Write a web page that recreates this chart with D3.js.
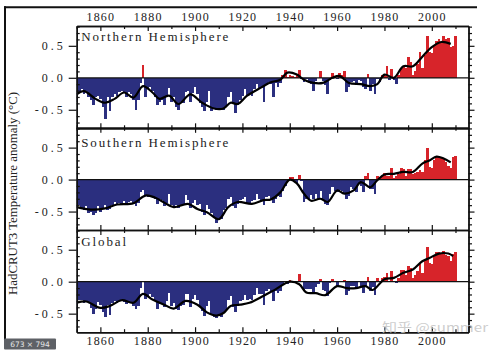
<!DOCTYPE html>
<html><head><meta charset="utf-8">
<script src="https://cdn.jsdelivr.net/npm/d3@7"></script>
<style>body{margin:0;background:#fff}svg{display:block}</style>
</head><body>
<svg id="c" width="500" height="355"></svg>
<script>
// ---------------- data ----------------
const firstYear = 1850;
const panelNames = ["Northern Hemisphere", "Southern Hemisphere", "Global"];
const xTickLabels = [1860, 1880, 1900, 1920, 1940, 1960, 1980, 2000];
const xMinorTicks = [1850, 1870, 1890, 1910, 1930, 1950, 1970, 1990, 2010];
const yTickLabels = [0.5, 0.0, -0.5];
const yLabel = "HadCRUT3 Temperature anomaly (°C)";

const nhAnnual = [
-0.38,-0.22,-0.18,-0.25,-0.20,-0.30,-0.35,-0.42,-0.30,-0.28,
-0.33,-0.45,-0.64,-0.30,-0.52,-0.30,-0.25,-0.28,-0.22,-0.20,
-0.22,-0.30,-0.22,-0.25,-0.35,-0.50,-0.35,-0.08, 0.20,-0.30,
-0.18,-0.15,-0.20,-0.30,-0.42,-0.38,-0.35,-0.42,-0.30,-0.16,
-0.38,-0.30,-0.45,-0.50,-0.38,-0.40,-0.22,-0.20,-0.38,-0.24,
-0.14,-0.25,-0.40,-0.46,-0.52,-0.38,-0.20,-0.52,-0.48,-0.50,
-0.48,-0.50,-0.50,-0.46,-0.30,-0.22,-0.40,-0.55,-0.42,-0.34,
-0.28,-0.18,-0.28,-0.25,-0.28,-0.18,-0.10,-0.18,-0.14,-0.38,
-0.10,-0.06,-0.10,-0.30,-0.08,-0.14,-0.08, 0.05, 0.12, 0.02,
 0.05, 0.03, 0.02, 0.04, 0.12,-0.02,-0.06,-0.02,-0.05,-0.10,
-0.20,-0.05,-0.01, 0.10,-0.05,-0.12,-0.25,-0.03, 0.08, 0.03,
-0.02, 0.07, 0.05, 0.10,-0.22,-0.14,-0.06,-0.05,-0.12,-0.04,
-0.05,-0.15,-0.18, 0.06,-0.20,-0.09,-0.25,-0.02,-0.06, 0.05,
 0.05, 0.18,-0.04, 0.13,-0.03,-0.10, 0.05, 0.13, 0.18, 0.15,
 0.33, 0.25, 0.05, 0.10, 0.22, 0.40, 0.15, 0.35, 0.65, 0.40,
 0.38, 0.52, 0.58, 0.60, 0.55, 0.65, 0.60, 0.62, 0.48, 0.50,
 0.66];

const shAnnual = [
-0.45,-0.40,-0.45,-0.48,-0.42,-0.52,-0.50,-0.55,-0.52,-0.42,
-0.50,-0.46,-0.40,-0.48,-0.46,-0.40,-0.35,-0.40,-0.36,-0.38,
-0.34,-0.40,-0.35,-0.34,-0.38,-0.42,-0.36,-0.20,-0.16,-0.24,
-0.28,-0.24,-0.25,-0.30,-0.38,-0.30,-0.32,-0.42,-0.36,-0.22,
-0.40,-0.42,-0.40,-0.44,-0.42,-0.38,-0.24,-0.32,-0.44,-0.36,
-0.32,-0.40,-0.38,-0.50,-0.55,-0.40,-0.46,-0.52,-0.58,-0.68,
-0.62,-0.62,-0.48,-0.44,-0.30,-0.28,-0.42,-0.45,-0.38,-0.32,
-0.30,-0.28,-0.38,-0.36,-0.34,-0.32,-0.22,-0.30,-0.32,-0.40,
-0.28,-0.26,-0.30,-0.36,-0.30,-0.26,-0.28,-0.18,-0.10,-0.02,
 0.04, 0.04,-0.04,-0.06, 0.07,-0.02,-0.35,-0.30,-0.32,-0.24,
-0.30,-0.22,-0.30,-0.18,-0.32,-0.38,-0.40,-0.22,-0.12,-0.18,
-0.20,-0.16,-0.18,-0.22,-0.30,-0.25,-0.12,-0.15,-0.20,-0.05,
-0.10,-0.20, 0.06, 0.10,-0.15,-0.14,-0.22, 0.05, 0.02, 0.06,
 0.10, 0.05, 0.05, 0.18, 0.02, 0.06, 0.08, 0.18, 0.17, 0.06,
 0.16, 0.16, 0.08, 0.10, 0.12, 0.15, 0.12, 0.30, 0.49, 0.20,
 0.18, 0.30, 0.36, 0.35, 0.34, 0.32, 0.28, 0.22, 0.18, 0.36,
 0.37];

const glAnnual = [
-0.44,-0.29,-0.29,-0.34,-0.31,-0.32,-0.41,-0.50,-0.42,-0.32,
-0.36,-0.48,-0.55,-0.36,-0.52,-0.33,-0.30,-0.34,-0.30,-0.29,
-0.31,-0.35,-0.31,-0.32,-0.38,-0.42,-0.38,-0.10, 0.01,-0.27,
-0.24,-0.20,-0.24,-0.29,-0.42,-0.35,-0.34,-0.39,-0.30,-0.17,
-0.38,-0.34,-0.42,-0.44,-0.38,-0.36,-0.20,-0.20,-0.40,-0.27,
-0.21,-0.28,-0.38,-0.46,-0.53,-0.38,-0.30,-0.50,-0.55,-0.57,
-0.52,-0.56,-0.49,-0.46,-0.28,-0.22,-0.40,-0.47,-0.37,-0.30,
-0.29,-0.21,-0.29,-0.27,-0.29,-0.21,-0.10,-0.20,-0.20,-0.36,
-0.15,-0.11,-0.15,-0.30,-0.14,-0.18,-0.15,-0.03, 0.00,-0.03,
 0.02, 0.01,-0.01,-0.01, 0.12,-0.01,-0.15,-0.12,-0.12,-0.12,
-0.20,-0.08,-0.03, 0.04,-0.13,-0.15,-0.23,-0.02, 0.04,-0.01,
-0.06, 0.01, 0.00, 0.02,-0.21,-0.15,-0.07,-0.06,-0.12, 0.00,
-0.07,-0.17,-0.06, 0.08,-0.15,-0.09,-0.21, 0.05,-0.01, 0.05,
 0.08, 0.13, 0.00, 0.17,-0.01,-0.02, 0.05, 0.19, 0.18, 0.10,
 0.25, 0.21, 0.06, 0.11, 0.17, 0.28, 0.14, 0.35, 0.55, 0.30,
 0.27, 0.41, 0.46, 0.47, 0.45, 0.48, 0.42, 0.40, 0.33, 0.44,
 0.47];

// smoothed curves (year, value)
const nhSmoothYears  = [1850,1853,1858,1862,1866,1870,1874,1878,1882,1885,1889,1893,1898,1903,1908,1912,1915,1918,1922,1928,1932,1936,1939,1943,1946,1950,1954,1958,1961,1965,1970,1974,1977,1980,1984,1988,1992,1996,2000,2004,2008];
const nhSmoothValues = [-0.26,-0.21,-0.33,-0.39,-0.33,-0.23,-0.31,-0.13,-0.23,-0.33,-0.28,-0.41,-0.26,-0.39,-0.48,-0.48,-0.39,-0.41,-0.28,-0.15,-0.07,-0.03,0.08,0.05,-0.03,-0.08,-0.08,0.00,0.03,-0.08,-0.10,-0.13,-0.10,0.05,0.00,0.18,0.18,0.33,0.48,0.56,0.53];
const shSmoothYears  = [1850,1856,1862,1867,1874,1879,1883,1887,1891,1897,1901,1905,1910,1914,1918,1924,1929,1932,1936,1940,1943,1946,1949,1953,1956,1960,1963,1967,1970,1974,1977,1980,1984,1988,1992,1996,1999,2002,2005,2008];
const shSmoothValues = [-0.43,-0.47,-0.45,-0.39,-0.37,-0.25,-0.28,-0.36,-0.43,-0.38,-0.46,-0.51,-0.62,-0.43,-0.35,-0.38,-0.32,-0.31,-0.20,0.00,-0.06,-0.22,-0.33,-0.30,-0.35,-0.17,-0.22,-0.17,-0.04,-0.12,-0.01,0.08,0.09,0.12,0.12,0.25,0.30,0.36,0.33,0.27];
const glSmoothYears  = [1850,1854,1860,1864,1869,1874,1878,1882,1887,1891,1896,1901,1905,1909,1912,1915,1919,1923,1929,1934,1940,1944,1947,1951,1955,1960,1964,1968,1972,1975,1980,1984,1988,1992,1996,1999,2003,2007,2009];
const glSmoothValues = [-0.33,-0.31,-0.41,-0.38,-0.29,-0.33,-0.19,-0.28,-0.36,-0.42,-0.30,-0.36,-0.48,-0.53,-0.49,-0.38,-0.36,-0.33,-0.22,-0.12,0.00,-0.04,-0.17,-0.18,-0.21,-0.07,-0.10,-0.10,-0.07,-0.13,0.04,0.06,0.14,0.19,0.32,0.37,0.44,0.44,0.40];

// ---------------- layout ----------------
const W = 500, H = 355;
const left = 76.7, right = 468.5;
const panelTops = [26, 127.8, 229.9];
const panelH = 102.3;
const titleOffsets = [14.8, 19, 15.8];
const serif = '"Liberation Serif","DejaVu Serif",serif';
const BLUE = "#2b2f7f", RED = "#d7242a";

const svg = d3.select("#c");
svg.append("rect").attr("width", W).attr("height", H).attr("fill", "#fff");

const x = d3.scaleLinear().domain([1850, 2015.5]).range([left, right]);

const series = [
  {name: panelNames[0], annual: nhAnnual, sy: nhSmoothYears, sv: nhSmoothValues},
  {name: panelNames[1], annual: shAnnual, sy: shSmoothYears, sv: shSmoothValues},
  {name: panelNames[2], annual: glAnnual, sy: glSmoothYears, sv: glSmoothValues}
];

const defs = svg.append("defs");

series.forEach((s, pi) => {
  const top = panelTops[pi], bottom = top + panelH;
  const y = d3.scaleLinear().domain([-0.79, 0.81]).range([bottom, top]);
  const g = svg.append("g");
  const cid = "clip" + pi;
  defs.append("clipPath").attr("id", cid).append("rect")
    .attr("x", left).attr("y", top).attr("width", right - left).attr("height", panelH);

  const bars = s.annual.map((v, i) => ({year: firstYear + i, v}));
  g.append("g").attr("clip-path", `url(#${cid})`).attr("shape-rendering", "crispEdges")
    .selectAll("rect").data(bars).join("rect")
    .attr("x", d => x(d.year - 0.5))
    .attr("width", d => x(d.year + 0.5) - x(d.year - 0.5) + 0.3)
    .attr("y", d => y(Math.max(0, d.v)))
    .attr("height", d => Math.abs(y(d.v) - y(0)))
    .attr("fill", d => d.v >= 0 ? RED : BLUE);

  // zero line
  g.append("line").attr("x1", left).attr("x2", right).attr("y1", y(0)).attr("y2", y(0))
    .attr("stroke", "#111").attr("stroke-width", 1.2);

  // smoothed curve
  const pts = s.sy.map((yr, i) => [yr, s.sv[i]]);
  g.append("path").attr("clip-path", `url(#${cid})`)
    .attr("d", d3.line().x(d => x(d[0])).y(d => y(d[1])).curve(d3.curveCatmullRom.alpha(0.5))(pts))
    .attr("fill", "none").attr("stroke", "#000").attr("stroke-width", 2.2)
    .attr("stroke-linejoin", "round");

  // title
  g.append("text").attr("x", left + 4.5).attr("y", top + titleOffsets[pi])
    .attr("font-family", serif).attr("font-size", 13).attr("letter-spacing", 1.9)
    .attr("fill", "#222").text(s.name);

  const styleAxis = sel => {
    sel.select(".domain").attr("stroke", "#111").attr("stroke-width", 1.4);
    sel.selectAll(".tick line").attr("stroke", "#111").attr("stroke-width", 1.2);
    sel.selectAll("text").attr("font-family", serif).attr("font-size", 12).attr("fill", "#222");
  };

  // top axis
  const topAx = g.append("g").attr("transform", `translate(0,${top})`)
    .call(d3.axisTop(x).tickValues(xTickLabels).tickSize(-5).tickSizeOuter(0).tickPadding(5)
      .tickFormat(pi === 0 ? d3.format("d") : () => ""));
  styleAxis(topAx);
  topAx.selectAll("text").attr("letter-spacing", 1.2);
  const topMin = g.append("g").attr("transform", `translate(0,${top})`)
    .call(d3.axisTop(x).tickValues(xMinorTicks).tickSize(-3).tickSizeOuter(0).tickFormat(() => ""));
  styleAxis(topMin);
  // bottom axis
  const botAx = g.append("g").attr("transform", `translate(0,${bottom})`)
    .call(d3.axisBottom(x).tickValues(xTickLabels).tickSize(-5).tickSizeOuter(0).tickPadding(4.5)
      .tickFormat(pi === 2 ? d3.format("d") : () => ""));
  styleAxis(botAx);
  botAx.selectAll("text").attr("letter-spacing", 1.2);
  const botMin = g.append("g").attr("transform", `translate(0,${bottom})`)
    .call(d3.axisBottom(x).tickValues(xMinorTicks).tickSize(-3).tickSizeOuter(0).tickFormat(() => ""));
  styleAxis(botMin);

  // left axis
  const minorY = d3.range(-7, 9).map(k => k / 10).filter(v => Math.abs(v * 2 - Math.round(v * 2)) > 1e-6);
  const lAx = g.append("g").attr("transform", `translate(${left},0)`)
    .call(d3.axisLeft(y).tickValues(yTickLabels).tickSize(8).tickSizeOuter(0).tickPadding(3)
      .tickFormat(d3.format(".1f")));
  styleAxis(lAx);
  lAx.selectAll("text").attr("letter-spacing", 3).text(d => d3.format(".1f")(d).replace("−", "-"));
  const lMin = g.append("g").attr("transform", `translate(${left},0)`)
    .call(d3.axisLeft(y).tickValues(minorY).tickSize(-3).tickSizeOuter(0).tickFormat(() => ""));
  styleAxis(lMin);
  // right axis
  const rAx = g.append("g").attr("transform", `translate(${right},0)`)
    .call(d3.axisRight(y).tickValues(yTickLabels).tickSize(6).tickSizeOuter(0).tickFormat(() => ""));
  styleAxis(rAx);
  const rMin = g.append("g").attr("transform", `translate(${right},0)`)
    .call(d3.axisRight(y).tickValues(minorY).tickSize(3.5).tickSizeOuter(0).tickFormat(() => ""));
  styleAxis(rMin);
});

// y-axis title
svg.append("text")
  .attr("transform", "translate(17,193.5) rotate(-90)")
  .attr("text-anchor", "middle")
  .attr("font-family", serif).attr("font-size", 13)
  .attr("textLength", 203).attr("lengthAdjust", "spacingAndGlyphs")
  .attr("fill", "#222").text(yLabel);

// screenshot frame (top and left border)
svg.append("line").attr("x1", 4).attr("x2", 477).attr("y1", 7.3).attr("y2", 7.3)
  .attr("stroke", "#111").attr("stroke-width", 2);
svg.append("line").attr("x1", 5).attr("x2", 5).attr("y1", 6.3).attr("y2", 340)
  .attr("stroke", "#111").attr("stroke-width", 2);

// image-size badge
svg.append("rect").attr("x", 4).attr("y", 338.5).attr("width", 52).attr("height", 11)
  .attr("fill", "#5e6166").attr("rx", 1);
svg.append("text").attr("x", 30).attr("y", 347).attr("text-anchor", "middle")
  .attr("font-family", "DejaVu Sans, sans-serif").attr("font-size", 7.5).attr("fill", "#e8e8e8")
  .text("673 × 794");

// watermark
svg.append("text").attr("x", 382).attr("y", 331.5)
  .attr("font-family", '"Noto Sans CJK SC","Noto Sans",sans-serif').attr("font-size", 12.5)
  .attr("textLength", 106).attr("lengthAdjust", "spacingAndGlyphs")
  .attr("fill", "#c4c4c4").attr("fill-opacity", 0.85)
  .text("知乎 @summer");
</script>
</body></html>
